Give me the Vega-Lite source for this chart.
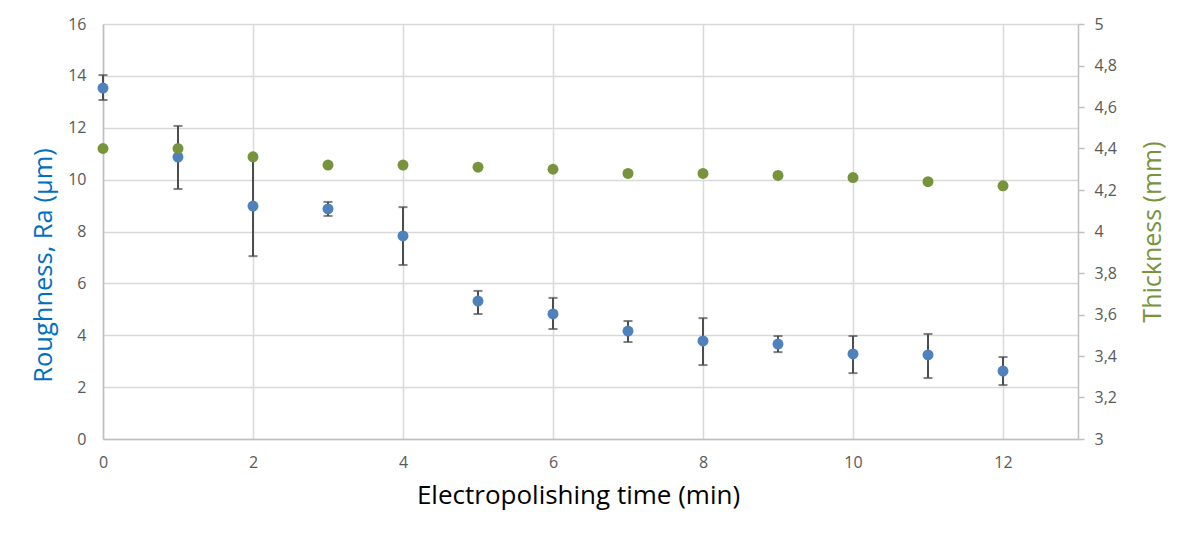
{
  "$schema": "https://vega.github.io/schema/vega-lite/v6.json",
  "autosize": "none",
  "width": 975,
  "height": 415,
  "padding": {"left": 103, "top": 24, "right": 118, "bottom": 95},
  "background": "white",
  "config": {
    "font": "Open Sans",
    "view": {"stroke": null},
    "locale": {"number": {"decimal": ",", "thousands": ".", "grouping": [3], "currency": ["", " €"]}},
    "axis": {"labelFont": "Open Sans", "titleFont": "Open Sans", "labelColor": "#595959", "labelFontSize": 16, "gridColor": "#d9d9d9", "gridWidth": 1.5, "domainColor": "#bfbfbf", "domainWidth": 1.5, "titleFontWeight": "normal"}
  },
  "data": {"values": [
    {"t": 0, "ra": 13.53, "lo": 13.07, "hi": 14.03, "th": 4.40},
    {"t": 1, "ra": 10.87, "lo": 9.64, "hi": 12.07, "th": 4.40},
    {"t": 2, "ra": 8.98, "lo": 7.05, "hi": 10.91, "th": 4.36},
    {"t": 3, "ra": 8.87, "lo": 8.60, "hi": 9.14, "th": 4.32},
    {"t": 4, "ra": 7.83, "lo": 6.71, "hi": 8.94, "th": 4.32},
    {"t": 5, "ra": 5.32, "lo": 4.82, "hi": 5.71, "th": 4.31},
    {"t": 6, "ra": 4.82, "lo": 4.24, "hi": 5.44, "th": 4.30},
    {"t": 7, "ra": 4.16, "lo": 3.74, "hi": 4.55, "th": 4.28},
    {"t": 8, "ra": 3.78, "lo": 2.85, "hi": 4.66, "th": 4.28},
    {"t": 9, "ra": 3.66, "lo": 3.35, "hi": 3.97, "th": 4.27},
    {"t": 10, "ra": 3.28, "lo": 2.54, "hi": 3.97, "th": 4.26},
    {"t": 11, "ra": 3.24, "lo": 2.35, "hi": 4.05, "th": 4.24},
    {"t": 12, "ra": 2.62, "lo": 2.08, "hi": 3.16, "th": 4.22}
  ]},
  "encoding": {
    "x": {
      "field": "t", "type": "quantitative",
      "scale": {"domain": [0, 13], "nice": false, "zero": false},
      "axis": {"values": [0, 2, 4, 6, 8, 10, 12], "ticks": false, "labelFlush": false, "labelPadding": 15, "title": "Electropolishing time (min)", "titleFontSize": 26, "titleColor": "#000000", "titlePadding": 12, "titleX": 475, "gridColor": "#d9d9d9"}
    }
  },
  "layer": [
    {
      "layer": [
        {
          "mark": {"type": "rule", "color": "#4d4d4d", "strokeWidth": 2},
          "encoding": {
            "y": {"field": "lo", "type": "quantitative", "scale": {"domain": [0, 16], "nice": false}, "axis": {"title": "Roughness, Ra (μm)", "titleColor": "#0070c0", "titleFontSize": 25.5, "titlePadding": 11, "titleY": 241, "values": [0, 2, 4, 6, 8, 10, 12, 14, 16], "ticks": false, "labelPadding": 17, "domain": true}},
            "y2": {"field": "hi"}
          }
        },
        {
          "mark": {"type": "tick", "orient": "horizontal", "color": "#4d4d4d", "size": 9, "thickness": 2},
          "encoding": {"y": {"field": "lo", "type": "quantitative", "axis": {"title": "Roughness, Ra (μm)"}}}
        },
        {
          "mark": {"type": "tick", "orient": "horizontal", "color": "#4d4d4d", "size": 9, "thickness": 2},
          "encoding": {"y": {"field": "hi", "type": "quantitative", "axis": {"title": "Roughness, Ra (μm)"}}}
        },
        {
          "mark": {"type": "point", "filled": true, "opacity": 1, "size": 120, "color": "#4f81bd"},
          "encoding": {"y": {"field": "ra", "type": "quantitative", "axis": {"title": "Roughness, Ra (μm)"}}}
        }
      ]
    },
    {
      "mark": {"type": "point", "filled": true, "opacity": 1, "size": 120, "color": "#77933c"},
      "encoding": {
        "y": {"field": "th", "type": "quantitative", "scale": {"domain": [3, 5], "nice": false, "zero": false},
          "axis": {"orient": "right", "title": "Thickness (mm)", "titleColor": "#77933c", "titleFontSize": 25, "titleAngle": 270, "titleBaseline": "top", "titlePadding": 24, "values": [3, 3.2, 3.4, 3.6, 3.8, 4, 4.2, 4.4, 4.6, 4.8, 5], "format": ".1~f", "grid": false, "ticks": true, "tickColor": "#bfbfbf", "tickSize": 6, "tickWidth": 1.5, "labelPadding": 10}}
      }
    }
  ],
  "resolve": {"scale": {"y": "independent"}}
}
